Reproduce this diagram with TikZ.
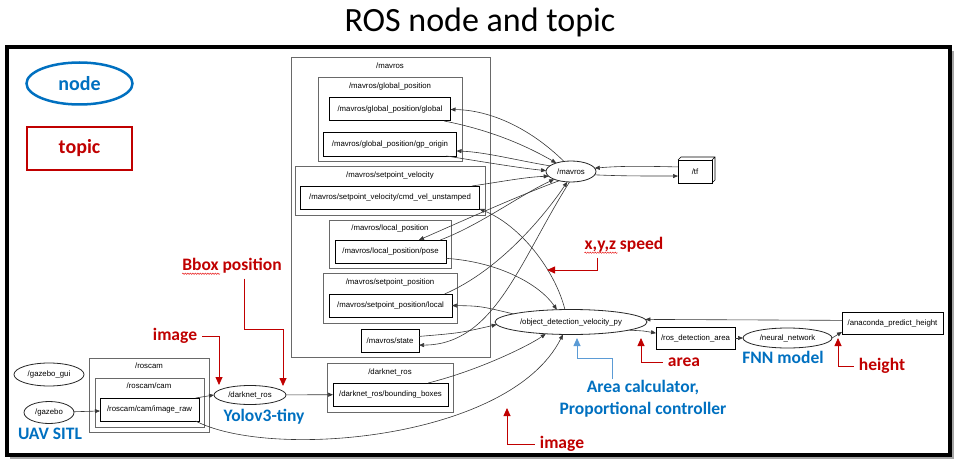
\documentclass[tikz,border=0pt]{standalone}
\usepackage{fontspec}
\setmainfont{Liberation Sans}
\newfontfamily\calibrifont{Carlito}
\usetikzlibrary{shapes.geometric}
\usetikzlibrary{arrows.meta}
\usetikzlibrary{calc}
\usetikzlibrary{decorations.pathmorphing}
\definecolor{labelred}{RGB}{192,0,0}
\definecolor{labelblue}{RGB}{0,112,192}
\definecolor{calloutblue}{RGB}{91,155,213}
\definecolor{clustergray}{RGB}{105,105,105}
\definecolor{edgegray}{RGB}{55,55,55}
\newcommand{\graphsize}{\fontsize{7.8}{9}\selectfont}
\tikzstyle{rosnode}=[draw=black!85, ellipse, line width=0.8pt, inner sep=0pt, outer sep=0pt, font=\graphsize]
\tikzstyle{topicbox}=[draw=black, rectangle, line width=1pt, inner sep=0pt, outer sep=0pt, font=\graphsize]
\tikzstyle{topicline}=[draw=black, line width=0.6pt]
\tikzstyle{cluster}=[draw=clustergray, line width=0.8pt]
\tikzstyle{clusterlabel}=[inner sep=0pt, font=\graphsize]
\tikzstyle{edge}=[draw=edgegray, line width=0.6pt, -{Triangle[length=5pt,width=4pt]}]
\tikzstyle{redlabel}=[text=labelred, inner sep=1pt, font=\calibrifont\bfseries\fontsize{17.5}{22}\selectfont]
\tikzstyle{bluelabel}=[text=labelblue, inner sep=1pt, font=\calibrifont\bfseries\fontsize{17.5}{22}\selectfont, align=center]
\tikzstyle{callout}=[draw=labelred, line width=0.8pt, shorten <=4pt, -{Triangle[length=8pt,width=7pt]}]
\tikzstyle{bluecallout}=[draw=calloutblue, line width=0.8pt, -{Triangle[length=8pt,width=7pt]}]
\tikzstyle{spellmark}=[draw=red!90!black, line width=0.4pt, decorate, decoration={snake, amplitude=0.7pt, segment length=2.5pt}]

\begin{document}
\begin{tikzpicture}[x=1pt, y=-1pt]
  \useasboundingbox (0,0) rectangle (960,468);
  % title and frame
  \node[font=\calibrifont\fontsize{34}{40}\selectfont] (title) at (480,22) {ROS node and topic};
  \draw[black!35, line width=2.5pt] (10,458) -- (953,458) -- (953,51);
  \draw[black, line width=4pt] (6.5,47) rectangle (950,455);

  % legend
  \node[draw=labelblue, ellipse, line width=2.5pt, minimum width=106, minimum height=42,
    text=labelblue, font=\calibrifont\bfseries\fontsize{20}{24}\selectfont] (legnode) at (79.5,83.5) {node};
  \node[draw=labelred, rectangle, line width=2.5pt, minimum width=105, minimum height=43,
    text=labelred, font=\calibrifont\bfseries\fontsize{20}{24}\selectfont] (legtopic) at (79.5,148.5) {topic};

  % clusters
  \draw[cluster] (291,57) rectangle (490,357);
  \node[clusterlabel] (mavrosgrp) at (390,65.5) {/mavros};
  \draw[cluster] (318,77) rectangle (462,161);
  \node[clusterlabel] (globalgrp) at (390,86) {/mavros/global\_position};
  \draw[cluster] (295,166) rectangle (485,215);
  \node[clusterlabel] (velgrp) at (390,175) {/mavros/setpoint\_velocity};
  \draw[cluster] (329,220) rectangle (451,268);
  \node[clusterlabel] (localgrp) at (390,228.5) {/mavros/local\_position};
  \draw[cluster] (323,273) rectangle (457,323);
  \node[clusterlabel] (spposgrp) at (390,282) {/mavros/setpoint\_position};
  \draw[cluster] (327,363) rectangle (453,412);
  \node[clusterlabel] (darknetgrp) at (390,372) {/darknet\_ros};
  \draw[cluster] (89,358) rectangle (209,432);
  \node[clusterlabel] (roscamgrp) at (149,366) {/roscam};
  \draw[cluster] (95,378) rectangle (204,427);
  \node[clusterlabel] (camgrp) at (149,386) {/roscam/cam};

  % topics
  \node[topicbox, minimum width=121, minimum height=23] (global) at (390,109.5) {/mavros/global\_position/global};
  \node[topicbox, minimum width=133, minimum height=24] (gporigin) at (390,144) {/mavros/global\_position/gp\_origin};
  \node[topicbox, minimum width=179, minimum height=23] (cmdvel) at (390,197.5) {/mavros/setpoint\_velocity/cmd\_vel\_unstamped};
  \node[topicbox, minimum width=111, minimum height=23] (pose) at (390.5,251.5) {/mavros/local\_position/pose};
  \node[topicbox, minimum width=123, minimum height=23] (splocal) at (390.5,305.5) {/mavros/setpoint\_position/local};
  \node[topicbox, minimum width=58, minimum height=23] (state) at (390,340.5) {/mavros/state};
  \node[topicbox, minimum width=115, minimum height=23] (bbox) at (390.5,394.5) {/darknet\_ros/bounding\_boxes};
  \node[topicbox, minimum width=99, minimum height=23] (imgraw) at (149.5,409.5) {/roscam/cam/image\_raw};
  \node[topicbox, minimum width=34, minimum height=23] (tf) at (695,171.5) {/tf};
  \draw[topicline] (tf.north west) -- ++(3,-3) -- ($(tf.north east)+(3,-3)$) -- ($(tf.south east)+(3,-3)$) -- (tf.south east)
    (tf.north east) -- ++(3,-3);
  \node[topicbox, minimum width=79, minimum height=22] (area) at (695.5,338) {/ros\_detection\_area};
  \node[topicbox, minimum width=101, minimum height=22] (anaconda) at (892.5,323) {/anaconda\_predict\_height};

  % nodes
  \node[rosnode, minimum width=70, minimum height=23] (gzgui) at (49,374.5) {/gazebo\_gui};
  \node[rosnode, minimum width=50, minimum height=22] (gazebo) at (49,412.5) {/gazebo};
  \node[rosnode, minimum width=72, minimum height=19] (darknet) at (250,395) {/darknet\_ros};
  \node[rosnode, minimum width=50, minimum height=21] (mavros) at (571,171.5) {/mavros};
  \node[rosnode, minimum width=152, minimum height=25] (objdet) at (571,322) {/object\_detection\_velocity\_py};
  \node[rosnode, minimum width=89, minimum height=20] (nn) at (787.5,338) {/neural\_network};

  % connectors
  \draw[edge] (gazebo) -- (imgraw);
  \draw[edge] (imgraw.14) -- (darknet.west);
  \draw[edge] (darknet) -- (bbox);
  \draw[edge] (mavros.125) .. controls (530,128) and (490,110) .. (global.east);
  \draw[edge] (global.-12) .. controls (490,130) and (525,145) .. (mavros.150);
  \draw[edge] (mavros.165) .. controls (515,160) and (485,152) .. (gporigin.-6);
  \draw[edge] (gporigin.-12) .. controls (490,163) and (520,168) .. (mavros.178);
  \draw[edge] (cmdvel.8) .. controls (500,182) and (525,177) .. (mavros.192);
  \draw[edge] (pose.13) .. controls (480,225) and (520,195) .. (mavros.205);
  \draw[edge] (mavros.218) .. controls (520,195) and (460,222) .. (pose.22);
  \draw[edge] (splocal.12) .. controls (500,270) and (545,215) .. (mavros.250);
  \draw[edge] (mavros.262) .. controls (520,260) and (495,345) .. (state.-9);
  \draw[edge] (state.8) .. controls (460,333) .. (objdet.182);
  \draw[edge] (objdet.172) .. controls (480,306) .. (splocal.east);
  \draw[edge] (pose.-7) .. controls (500,262) and (540,285) .. (objdet.139);
  \draw[edge] (objdet.116) .. controls (555,270) and (520,225) .. (cmdvel.south east);
  \draw[edge] (bbox.17) .. controls (480,370) and (530,345) .. (objdet.205);
  \draw[edge] (imgraw.-14) .. controls (270,460) and (510,440) .. (objdet.237);
  \draw[edge] (objdet.352) .. controls (645,331) .. (area.173);
  \draw[edge] (area) -- (nn);
  \draw[edge] (nn.east) .. controls (837,335) .. (anaconda.190);
  \draw[edge] (anaconda.177) -- (objdet.2);
  \draw[edge] (tf.165) .. controls (640,166) and (620,166) .. (mavros.8);
  \draw[edge] (mavros.-8) .. controls (620,176) and (640,176) .. (tf.195);

  % callouts
  \node[redlabel] (imglbl) at (175,336) {image};
  \coordinate (imgtip) at (219,385);
  \draw[callout] (imglbl.east) -| (imgtip);
  \node[redlabel] (bboxlbl) at (232,266) {Bbox position};
  \coordinate (bboxtip) at (283,386);
  \draw[callout] ([xshift=12pt]bboxlbl.south) -- ++(0,55) -| (bboxtip);
  \draw[spellmark] ([xshift=1pt,yshift=1pt]bboxlbl.south west) -- ++(38,0);
  \node[redlabel] (speedlbl) at (624,245) {x,y,z speed};
  \coordinate (speedtip) at (547,270);
  \draw[callout] ([xshift=-27pt]speedlbl.south) |- (speedtip);
  \draw[spellmark] ([xshift=1pt,yshift=1pt]speedlbl.south west) -- ++(33,0);
  \node[redlabel] (arealbl) at (684,362) {area};
  \coordinate (areatip) at (641,338);
  \draw[callout] (arealbl.west) -| (areatip);
  \node[redlabel] (heightlbl) at (882,366) {height};
  \coordinate (heighttip) at (838,338);
  \draw[callout] (heightlbl.west) -| (heighttip);
  \node[redlabel] (imglbl2) at (562,444) {image};
  \coordinate (imgtip2) at (507,408);
  \draw[callout] (imglbl2.west) -| (imgtip2);
  \node[bluelabel] (calclbl) at (643,399) {Area calculator,\\Proportional controller};
  \coordinate (calctip) at (577,338);
  \draw[bluecallout] ([xshift=-31pt]calclbl.north) -- ++(0,-21) -| (calctip);
  \node[bluelabel] (sitllbl) at (50,434) {UAV SITL};
  \node[bluelabel] (yololbl) at (264,417) {Yolov3-tiny};
  \node[bluelabel] (fnnlbl) at (783,357) {FNN model};
\end{tikzpicture}
\end{document}
